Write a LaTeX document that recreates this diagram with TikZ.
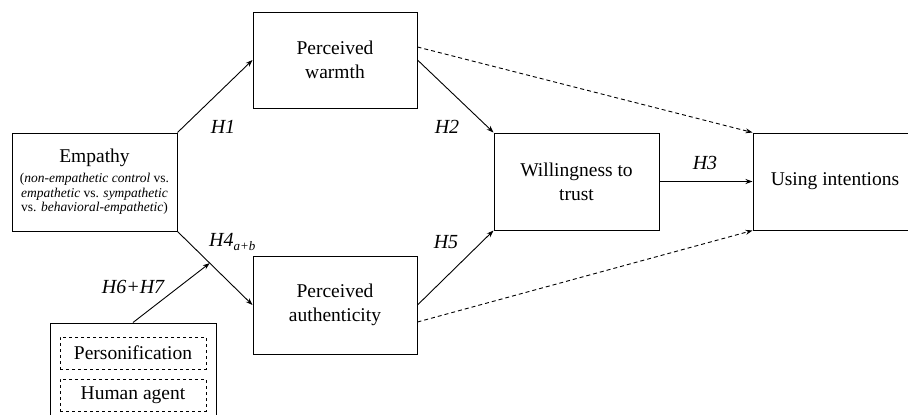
\documentclass[tikz,border=0pt]{standalone}
\usepackage{fontspec}
\setmainfont{Liberation Serif}
\usetikzlibrary{arrows.meta}
\begin{document}
\begin{tikzpicture}[x=1pt,y=-1pt,
  box/.style={draw,line width=1pt,rectangle,inner sep=0pt,align=center,font=\fontsize{19.5}{24}\selectfont},
  dbox/.style={draw,dashed,line width=0.9pt,rectangle,inner sep=0pt,align=center,font=\fontsize{19.5}{24}\selectfont,minimum width=146pt,minimum height=32pt},
  arr/.style={line width=0.9pt,-{Stealth[length=7pt,width=5pt]}},
  darr/.style={arr,dashed,dash pattern=on 4pt off 3pt},
  hlab/.style={font=\fontsize{20}{22}\selectfont\itshape,inner sep=0pt}
]
\useasboundingbox (0,0) rectangle (908,415);
\clip (0,0) rectangle (908,415);
\fill[white] (0,0) rectangle (908,415);
\node[box,minimum width=165pt,minimum height=98pt] (emp) at (94.5,182) {};
\node[align=center,inner sep=0pt,font=\fontsize{19.5}{24}\selectfont] (empt) at (94.5,158) {Empathy};
\node[align=center,inner sep=0pt,font=\fontsize{13.5}{14.5}\selectfont] (emps) at (94.5,194) {(\textit{non-empathetic control} vs.\\ \textit{empathetic} vs. \textit{sympathetic}\\ vs. \textit{behavioral-empathetic})};
\node[box,minimum width=164pt,minimum height=96pt] (warm) at (335,60) {Perceived\\warmth};
\node[box,minimum width=164pt,minimum height=98pt] (auth) at (335,305) {Perceived\\authenticity};
\node[box,minimum width=165pt,minimum height=97pt] (will) at (576.5,181.5) {Willingness to\\trust};
\node[box,minimum width=164pt,minimum height=97pt] (use) at (835,181.5) {Using intentions};
\node[box,minimum width=166pt,minimum height=110pt] (mod) at (133,378) {};
\node[dbox] (pers) at (133,353) {Personification};
\node[dbox] (human) at (133,395) {Human agent};
\draw[arr] (emp.north east) -- (warm.west);
\draw[arr] (warm.east) -- (will.north west);
\draw[arr] (emp.south east) -- coordinate[pos=0.43] (h4mid) (auth.west);
\draw[arr] (auth.east) -- (will.south west);
\draw[arr] (will.east) -- (use.west);
\draw[darr] ([yshift=13pt]warm.east) -- (use.north west);
\draw[darr] ([yshift=-17pt]auth.east) -- (use.south west);
\draw[arr] (mod.north) -- (h4mid);
\node[hlab] (l1) at (223,127) {H1};
\node[hlab] (l2) at (447,127) {H2};
\node[hlab,anchor=west] (l4) at (209,242) {H4\textsubscript{\fontsize{13}{14}\selectfont a+b}};
\node[hlab] (l5) at (446,242) {H5};
\node[hlab] (l3) at (705,163) {H3};
\node[hlab] (l67) at (133,287) {H6+H7};
\end{tikzpicture}
\end{document}
